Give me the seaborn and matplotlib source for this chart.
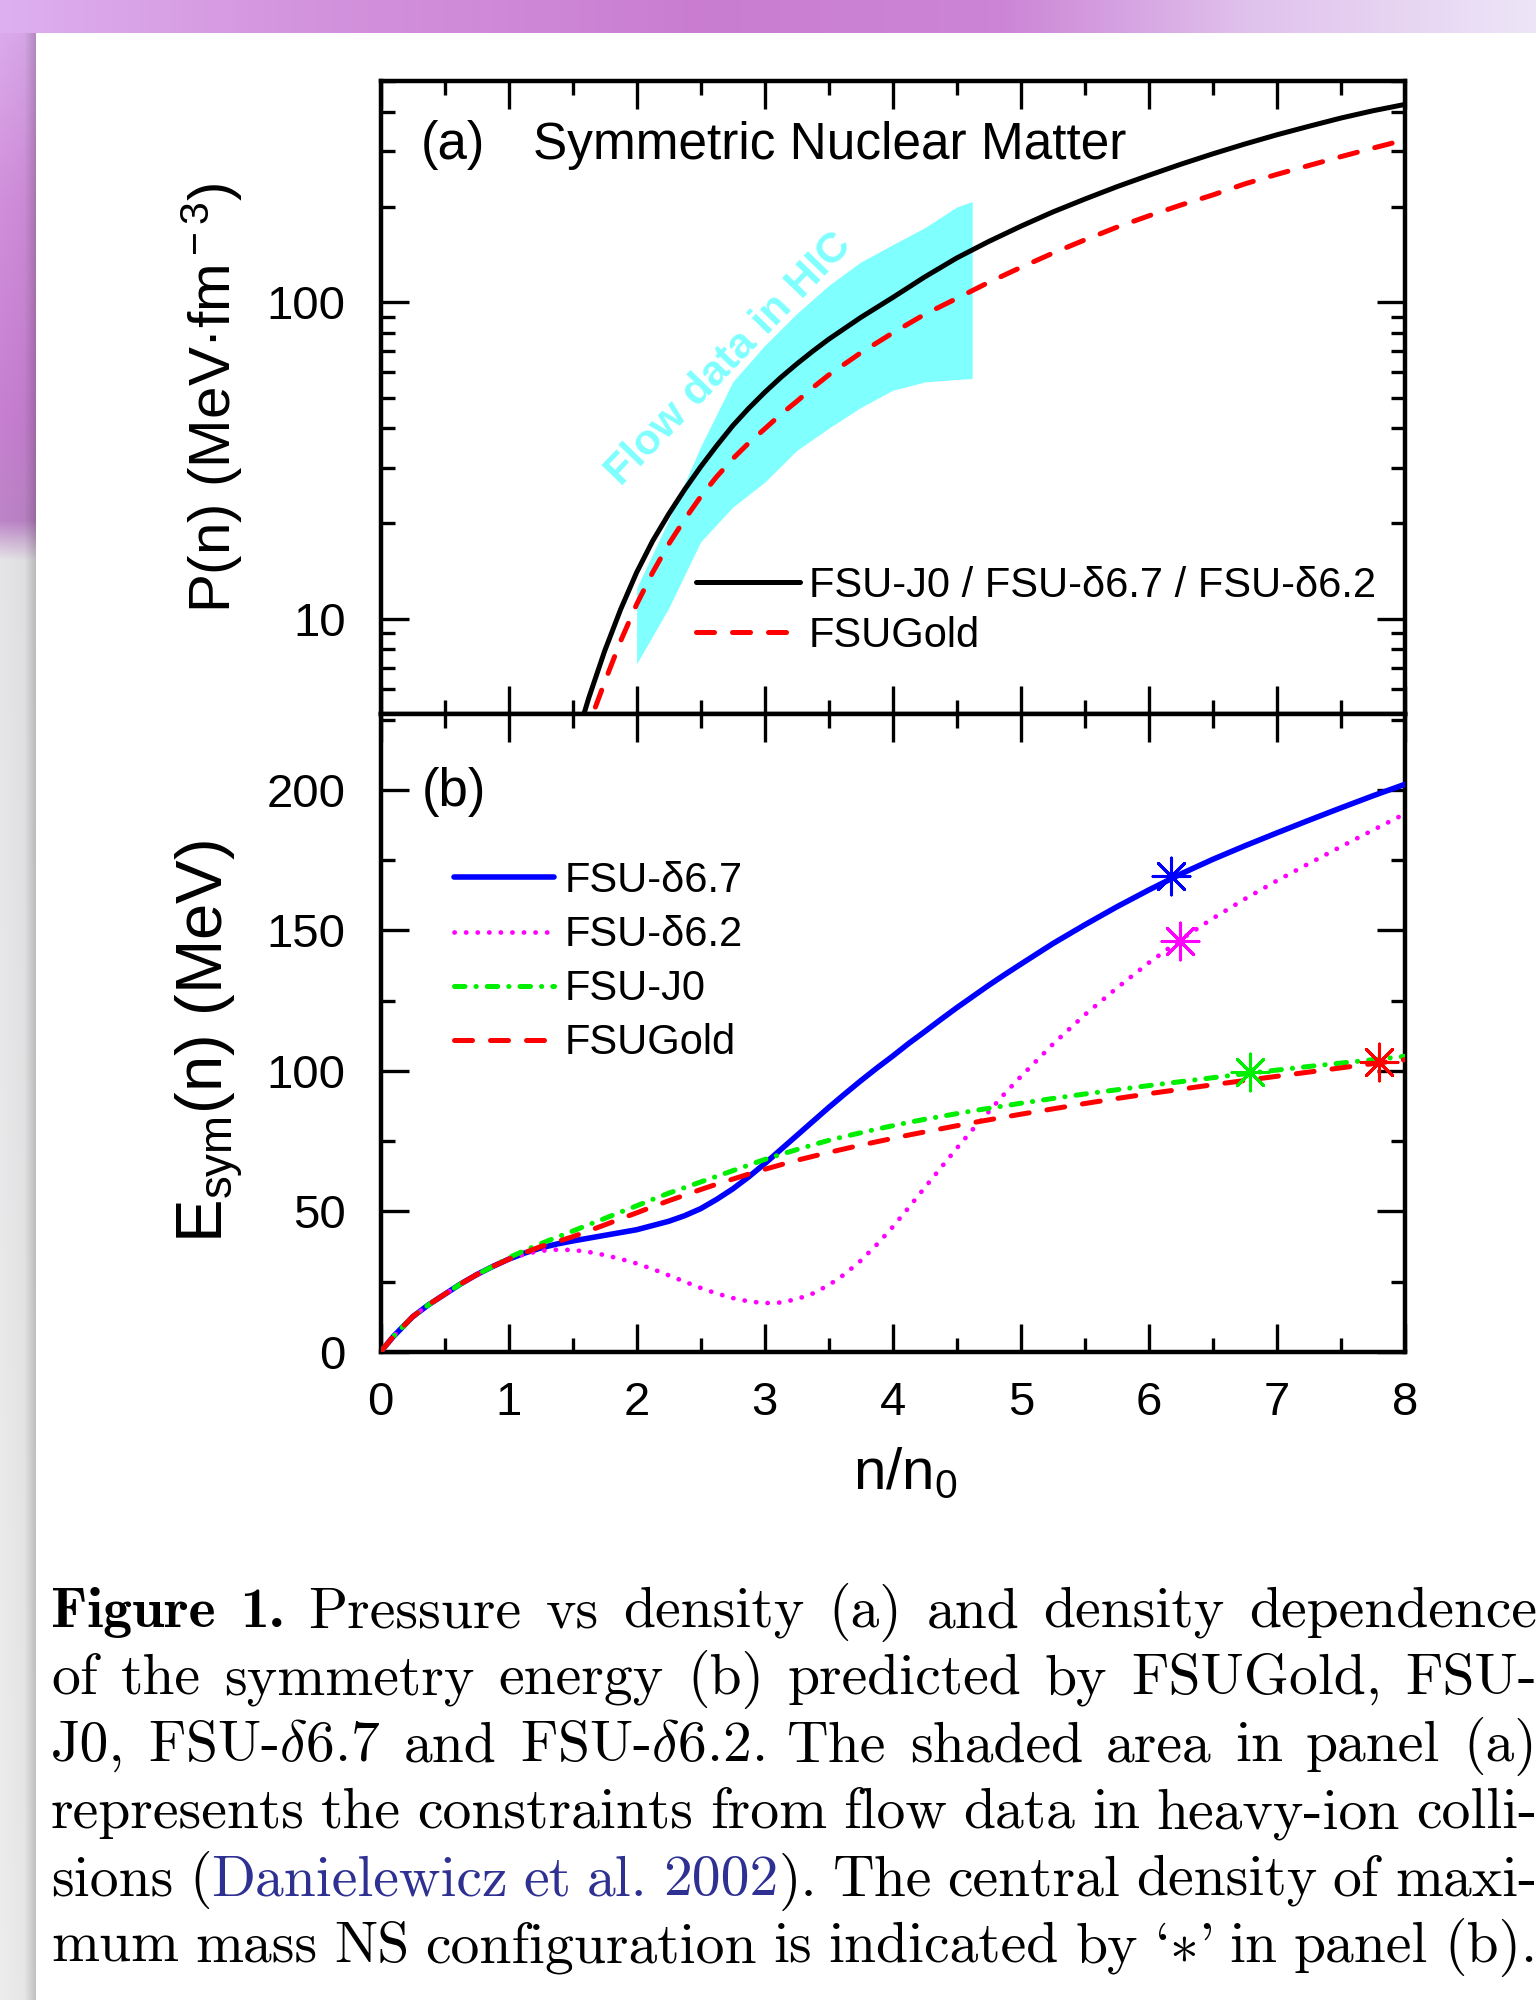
import numpy as np
import matplotlib
matplotlib.use("Agg")
import matplotlib.pyplot as plt
import matplotlib.ticker as mticker
import matplotlib.transforms as mtransforms
import seaborn as sns

# ---------------- data ----------------
# panel (a): pressure of symmetric nuclear matter, MeV fm^-3
n_a = [1.5, 1.625, 1.75, 1.875, 2.0, 2.125, 2.25, 2.375, 2.5, 2.625, 2.75, 2.875, 3.0,
       3.125, 3.25, 3.375, 3.5, 3.75, 4.0, 4.25, 4.5, 4.75, 5.0, 5.25, 5.5, 5.75, 6.0,
       6.25, 6.5, 6.75, 7.0, 7.25, 7.5, 7.75, 8.0]
p_fsuj0 = [3.8, 5.6, 7.9, 10.7, 14.0, 17.6, 21.4, 25.6, 30.2, 35.2, 40.7, 46.2, 51.9,
           57.8, 63.8, 70.0, 76.4, 89.5, 103.5, 120.2, 138.0, 155.6, 173.8, 192.8, 211.8,
           231.7, 251.8, 272.9, 294.4, 316.2, 338.1, 359.7, 381.9, 402.7, 421.7]
p_fsugold = [3.2, 4.6, 6.3, 8.5, 11.1, 14.0, 17.2, 20.6, 24.3, 28.1, 32.0, 35.9, 39.8,
             44.2, 48.6, 53.7, 58.9, 69.2, 80.0, 91.6, 102.8, 115.6, 128.8, 142.9, 157.4,
             172.6, 187.5, 202.8, 218.3, 236.6, 253.5, 270.4, 288.4, 306.9, 325.8]

# flow constraint band (Danielewicz et al. 2002)
band_n = [2.0, 2.25, 2.5, 2.75, 3.0, 3.25, 3.5, 3.75, 4.0, 4.25, 4.5, 4.62]
band_lo = [7.2, 10.8, 17.5, 22.5, 27.0, 34.0, 40.0, 46.5, 52.7, 56.0, 57.0, 57.4]
band_hi = [12.5, 20.5, 35.0, 56.0, 73.0, 92.0, 113.0, 134.0, 152.0, 172.0, 200.0, 208.0]

# panel (b): symmetry energy, MeV
n_b = [0, 0.1, 0.25, 0.375, 0.5, 0.625, 0.75, 0.875,
       1.0, 1.125, 1.25, 1.375, 1.5, 1.625, 1.75, 1.875, 2.0, 2.125, 2.25, 2.375, 2.5,
       2.625, 2.75, 2.875, 3.0, 3.125, 3.25, 3.375, 3.5, 3.625, 3.75, 3.875, 4.0, 4.125,
       4.25, 4.375, 4.5, 4.625, 4.75, 4.875, 5.0,
       5.25, 5.5, 5.75, 6.0, 6.25, 6.5, 6.75, 7.0, 7.25, 7.5, 7.75, 8.0]
esym_d67 = [0, 5.5, 12.5, 16.8, 20.5, 24.2, 27.5, 30.4,
            33.0, 35.2, 37.0, 38.4, 39.5, 40.5, 41.5, 42.5, 43.5, 45.0, 46.5, 48.5, 51.0,
            54.3, 58.0, 62.3, 67.0, 72.0, 77.0, 82.0, 87.0, 91.8, 96.5, 101.0, 105.3, 109.8,
            114.0, 118.3, 122.5, 126.5, 130.5, 134.3, 138.0,
            145.3, 152.0, 158.4, 164.4, 170.1, 175.3, 180.1, 184.7, 189.2, 193.6, 197.9, 202.0]
esym_d62 = [0, 5.5, 12.5, 16.8, 20.5, 24.2, 27.5, 30.4,
            33.0, 34.8, 36.0, 36.4, 36.3, 35.6, 34.5, 33.1, 31.5, 29.5, 27.3, 25.0, 22.8,
            20.8, 19.2, 18.0, 17.4, 17.6, 18.8, 20.8, 23.8, 27.7, 32.5, 38.2, 44.5, 51.4,
            58.5, 65.5, 72.5, 79.2, 85.5, 92.0, 98.0,
            109.5, 120.0, 129.5, 138.5, 146.8, 154.3, 161.2, 167.7, 173.8, 179.8, 185.7, 191.5]
esym_j0 = [0, 5.5, 12.5, 16.8, 20.5, 24.2, 27.5, 30.4,
           33.5, 36.1, 38.5, 40.8, 43.0, 45.3, 47.5, 49.8, 52.0, 54.3, 56.5, 58.5, 60.5,
           62.5, 64.5, 66.5, 68.5, 70.3, 72.0, 73.7, 75.3, 76.7, 78.0, 79.3, 80.5, 81.7,
           82.8, 83.8, 84.8, 85.8, 86.7, 87.6, 88.5,
           90.2, 91.8, 93.3, 94.8, 96.2, 97.6, 99.0, 100.3, 101.6, 102.8, 104.0, 105.2]
esym_gold = [0, 5.5, 12.5, 16.8, 20.5, 24.2, 27.5, 30.4,
             33.0, 35.3, 37.5, 39.2, 41.0, 43.1, 45.2, 47.4, 49.5, 51.7, 53.8, 55.8, 57.8,
             59.7, 61.5, 63.3, 65.0, 66.6, 68.2, 69.6, 71.0, 72.3, 73.6, 74.8, 76.0, 77.2,
             78.3, 79.4, 80.5, 81.6, 82.6, 83.6, 84.6,
             86.5, 88.4, 90.2, 91.9, 93.5, 95.1, 96.6, 98.1, 99.6, 101.1, 102.6, 104.0]

# central density of the maximum-mass star
star_n = [6.17, 6.24, 6.79, 7.80]
star_e = [169.3, 146.3, 99.7, 103.2]
star_colors = ["#0000ff", "#ff00ff", "#00ee00", "#ff0000"]

x_ticks = [0, 1, 2, 3, 4, 5, 6, 7, 8]
e_ticks = [0, 50, 100, 150, 200]

# ---------------- style ----------------
sns.set_theme(style="ticks")
plt.rcParams["font.family"] = ["Liberation Sans", "DejaVu Sans"]
plt.rcParams.update({
    "mathtext.fontset": "custom",
    "mathtext.rm": "Liberation Sans",
    "mathtext.it": "Liberation Sans:italic",
    "mathtext.bf": "Liberation Sans:bold",
    "axes.edgecolor": "black",
    "axes.linewidth": 3.2,
    "xtick.color": "black",
    "ytick.color": "black",
    "text.color": "black",
})

W, H = 1536, 2000
fig = plt.figure(figsize=(W / 100, H / 100), dpi=100)
fig.patch.set_facecolor("white")

# screenshot backdrop: purple desktop strip on top and left
bg = np.ones((H, W, 3))
xs = np.arange(W)
ys = np.arange(H)
top_kx = [0, 300, 700, 1000, 1250, 1536]
top_col = np.array([[0.87, 0.69, 0.94], [0.83, 0.58, 0.87], [0.79, 0.49, 0.82],
                    [0.80, 0.52, 0.84], [0.88, 0.76, 0.93], [0.93, 0.90, 0.97]])
top_band = np.stack([np.interp(xs, top_kx, top_col[:, k]) for k in range(3)], -1)
bg[:33] = top_band[None]
left_ky = [0, 200, 420, 520, 560, 2000]
left_col = np.array([[0.87, 0.69, 0.94], [0.82, 0.56, 0.86], [0.78, 0.50, 0.82],
                     [0.74, 0.52, 0.78], [0.90, 0.90, 0.91], [0.93, 0.93, 0.93]])
left_band = np.stack([np.interp(ys, left_ky, left_col[:, k]) for k in range(3)], -1)
shade = np.interp(np.arange(36), [0, 24, 36], [1.0, 0.97, 0.80])
bg[33:, :36] = left_band[33:, None, :] * shade[None, :, None]
bg_ax = fig.add_axes([0, 0, 1, 1], zorder=-10)
bg_ax.imshow(bg, aspect="auto", interpolation="bilinear")
bg_ax.axis("off")

ax_a = fig.add_axes([380.5 / W, 1 - 714 / H, 1024.5 / W, 633 / H])
ax_b = fig.add_axes([380.5 / W, 1 - 1352 / H, 1024.5 / W, 638 / H])

# ---------------- panel (a) ----------------
ax_a.set_yscale("log")
ax_a.fill_between(band_n, band_lo, band_hi, color="#80ffff", lw=0, zorder=1)
sns.lineplot(x=n_a, y=p_fsuj0, ax=ax_a, color="black", lw=3.6, zorder=3,
             label="FSU-J0 / FSU-δ6.7 / FSU-δ6.2")
sns.lineplot(x=n_a, y=p_fsugold, ax=ax_a, color="#ff0000", lw=3.6, zorder=3,
             linestyle=(0, (3.6, 3.6)), dash_capstyle="round", label="FSUGold")
ax_a.set_xlim(0, 8)
ax_a.set_ylim(5, 500)
ax_a.yaxis.set_major_locator(mticker.FixedLocator([10, 100]))
ax_a.yaxis.set_major_formatter(mticker.FixedFormatter(["10", "100"]))
ax_a.yaxis.set_minor_locator(mticker.LogLocator(base=10, subs=np.arange(2, 10), numticks=20))
ax_a.yaxis.set_minor_formatter(mticker.NullFormatter())
ax_a.text(0.0395, 0.876, "(a)", transform=ax_a.transAxes, fontsize=38, va="baseline")
ax_a.text(0.1488, 0.876, "Symmetric Nuclear Matter", transform=ax_a.transAxes,
          fontsize=37, va="baseline")
ax_a.text(2.72, 66.0, "Flow data in HIC", color="#80ffff", fontsize=31, fontweight="bold",
          rotation=46, rotation_mode="anchor", ha="center", va="center", zorder=2)
ax_a.legend(handles=ax_a.get_lines()[:2], loc="center left", bbox_to_anchor=(0.3084, 0.163),
            frameon=False, fontsize=30, handlelength=2.48, handletextpad=0.22,
            labelspacing=0.24, borderpad=0, borderaxespad=0)

# ---------------- panel (b) ----------------
sns.lineplot(x=n_b, y=esym_d67, ax=ax_b, color="#0000ff", lw=4.0, zorder=3, label="FSU-δ6.7")
sns.lineplot(x=n_b, y=esym_d62, ax=ax_b, color="#ff00ff", lw=3.4, zorder=3,
             linestyle=(0, (0.05, 2.4)), dash_capstyle="round", label="FSU-δ6.2")
sns.lineplot(x=n_b, y=esym_j0, ax=ax_b, color="#00ee00", lw=3.6, zorder=3,
             linestyle=(0, (2.1, 2.2, 0.05, 2.2)), dash_capstyle="round", label="FSU-J0")
sns.lineplot(x=n_b, y=esym_gold, ax=ax_b, color="#ff0000", lw=3.6, zorder=3,
             linestyle=(0, (3.6, 3.6)), dash_capstyle="round", label="FSUGold")
for sn, se, sc in zip(star_n, star_e, star_colors):
    ax_b.scatter([sn], [se], marker=(8, 2, 0), s=700, color=sc, linewidths=2.2, zorder=5)
ax_b.set_xlim(0, 8)
ax_b.set_ylim(0, 227)
ax_b.set_yticks(e_ticks)
ax_b.yaxis.set_minor_locator(mticker.MultipleLocator(25))
ax_b.text(0.0405, 0.856, "(b)", transform=ax_b.transAxes, fontsize=38, va="baseline")
ax_b.legend(handles=ax_b.get_lines()[:4], loc="center left", bbox_to_anchor=(0.0717, 0.611),
            frameon=False, fontsize=30, handlelength=2.4, handletextpad=0.25,
            labelspacing=0.34, borderpad=0, borderaxespad=0)

for ax in (ax_a, ax_b):
    ax.set_facecolor("white")
    ax.set_xticks(x_ticks)
    ax.xaxis.set_minor_locator(mticker.MultipleLocator(0.5))
    ax.tick_params(which="both", direction="in", top=True, right=True, width=2.4,
                   labelsize=34)
    ax.tick_params(which="major", length=20)
    ax.tick_params(which="minor", length=10)
    ax.tick_params(axis="y", pad=25)
    ax.set_xlabel("")
    ax.set_ylabel("")
    for sp in ax.spines.values():
        sp.set_linewidth(3.2)
        sp.set_color("black")
ax_a.tick_params(labelbottom=False)
ax_b.tick_params(axis="x", pad=21)

fig.text(212 / W, 1 - 398 / H, "P(n) (MeV·fm$^{\\rm -3}$)", rotation=90, fontsize=42,
         ha="center", va="center")
fig.text(210 / W, 1 - 1042 / H, "E$_{\\rm sym}$(n) (MeV)", rotation=90, fontsize=47,
         ha="center", va="center")
fig.text(905 / W, 1 - 1489 / H, "n/n$_{\\rm 0}$", fontsize=42, ha="center", va="baseline")

# ---------------- caption (justified) ----------------
cap_size = 41.5
cap_x0, cap_x1 = 51, 1537
cap_styles = {
    "r": dict(family="cmr10", color="black"),
    "b": dict(family="cmb10", color="black"),
    "l": dict(family="cmr10", color="#2e3192"),
}
caption = [
    [[("Figure", "b")], [("1.", "b")], "Pressure", "vs", "density", "(a)", "and", "density",
     "dependence"],
    ["of", "the", "symmetry", "energy", "(b)", "predicted", "by", "FSUGold,", "FSU-"],
    ["J0,", "FSU-$\\delta$6.7", "and", "FSU-$\\delta$6.2.", "The", "shaded", "area", "in",
     "panel", "(a)"],
    ["represents", "the", "constraints", "from", "flow", "data", "in", "heavy-ion", "colli-"],
    ["sions", [("(", "r"), ("Danielewicz", "l")], [("et", "l")], [("al.", "l")],
     [("2002", "l"), (").", "r")], "The", "central", "density", "of", "maxi-"],
    ["mum", "mass", "NS", "configuration", "is", "indicated", "by", "`$\\ast$'", "in", "panel",
     "(b)."],
]
cap_base = [1627, 1694, 1761, 1828, 1895, 1962]

ident = mtransforms.IdentityTransform()
rend = fig.canvas.get_renderer()
for words, yb in zip(caption, cap_base):
    placed, total = [], 0.0
    for word in words:
        if isinstance(word, str):
            word = [(word, "r")]
        parts = []
        for s, st in word:
            t = fig.text(0, H - yb, s, transform=ident, fontsize=cap_size, math_fontfamily="cm",
                         ha="left", va="baseline", **cap_styles[st])
            w = t.get_window_extent(renderer=rend).width
            parts.append((t, w))
            total += w
        placed.append(parts)
    gap = (cap_x1 - cap_x0 - total) / (len(placed) - 1)
    x = cap_x0
    for parts in placed:
        for t, w in parts:
            t.set_x(x)
            x += w
        x += gap

fig.savefig("out.png", dpi=100)
